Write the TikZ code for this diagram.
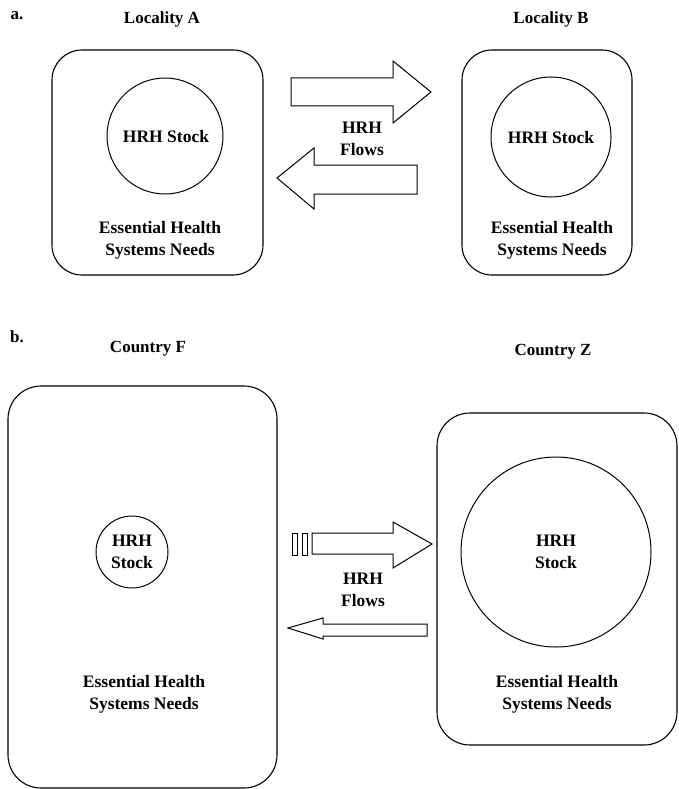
\documentclass[tikz,border=0pt]{standalone}
\usepackage{fontspec}
\setmainfont{Liberation Serif}
\begin{document}
\begin{tikzpicture}[x=1pt,y=-1pt,
  lbl/.style={font=\bfseries\fontsize{17.5}{22}\selectfont,align=center,inner sep=0pt},
  ttl/.style={font=\bfseries\fontsize{17}{20}\selectfont,inner sep=0pt},
  box/.style={draw,line width=1.1pt,rounded corners=30pt},
  stock/.style={draw,line width=1pt,circle,inner sep=0pt},
  barrow/.style={draw,line width=1pt,line join=miter}]
\useasboundingbox (0,0) rectangle (678,789);
% ---------- part a ----------
\node[ttl] (la) at (17,16) {a.};
\node[ttl] (tA) at (162,19) {Locality A};
\node[ttl] (tB) at (551,19) {Locality B};
\draw[box] (52,50) rectangle (263,275);
\draw[box] (462,50) rectangle (632,275);
\node[stock,minimum size=116pt] (cA) at (165,136) {};
\node[lbl] (sA) at (166,137) {HRH Stock};
\node[stock,minimum size=120pt] (cB) at (551,137) {};
\node[lbl] (sB) at (551,138) {HRH Stock};
\node[lbl] (eA) at (160,240) {Essential Health\\Systems Needs};
\node[lbl] (eB) at (552,240) {Essential Health\\Systems Needs};
\node[lbl] (fa) at (362,139) {HRH\\Flows};
\draw[barrow] (291,78) -- (393,78) -- (393,61) -- (431,92) -- (393,123) -- (393,106) -- (291,106) -- cycle;
\draw[barrow] (417,165) -- (314,165) -- (314,148) -- (277,178) -- (314,209) -- (314,194) -- (417,194) -- cycle;
% ---------- part b ----------
\node[ttl] (lb) at (17,337) {b.};
\node[ttl] (tF) at (148,349) {Country F};
\node[ttl] (tZ) at (553,352) {Country Z};
\draw[box,rounded corners=33pt] (8,386) rectangle (277,788);
\draw[box,rounded corners=33pt] (437,413) rectangle (677,745);
\node[stock,minimum size=72pt] (cF) at (132,552) {};
\node[lbl] (sF) at (132,552) {HRH\\Stock};
\node[stock,minimum size=190pt] (cZ) at (556,552) {};
\node[lbl] (sZ) at (556,552) {HRH\\Stock};
\node[lbl] (eF) at (144,694) {Essential Health\\Systems Needs};
\node[lbl] (eZ) at (557,694) {Essential Health\\Systems Needs};
\node[lbl] (fb) at (363,590) {HRH\\Flows};
\draw[barrow] (292,533) rectangle (297,555);
\draw[barrow] (302,533) rectangle (307,555);
\draw[barrow] (312,533) -- (393,533) -- (393,522) -- (432,544) -- (393,568) -- (393,554) -- (312,554) -- cycle;
\draw[barrow] (427,624) -- (323,624) -- (323,618) -- (288,628) -- (323,639) -- (323,636) -- (427,636) -- cycle;
\end{tikzpicture}
\end{document}
